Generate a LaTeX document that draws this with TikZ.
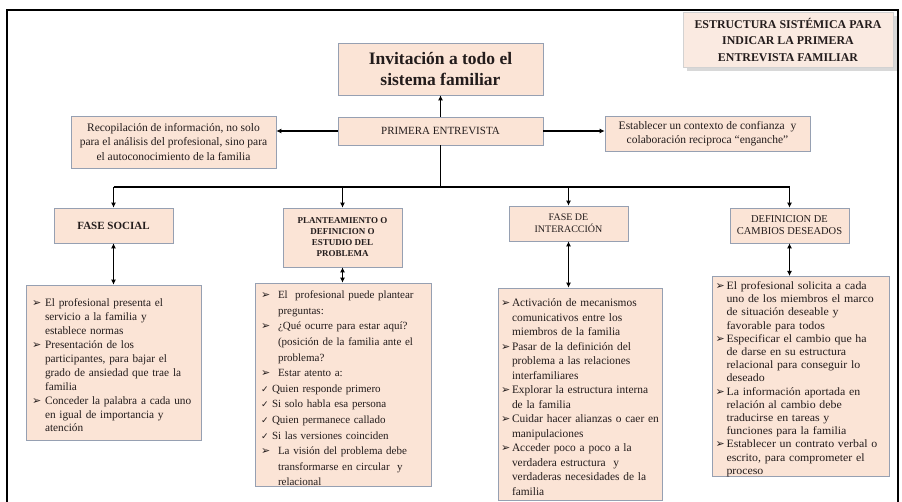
\documentclass[tikz,border=0pt]{standalone}
\usepackage{fontspec}
\setmainfont{Liberation Serif}
\newfontfamily\symf{DejaVu Sans}
\newfontfamily\widef[FakeStretch=1.06]{Liberation Serif}
\usetikzlibrary{arrows.meta,shadows}
\definecolor{boxfill}{RGB}{251,228,214}
\definecolor{boxline}{RGB}{150,160,178}
\definecolor{ink}{RGB}{35,28,28}
\definecolor{titlefill}{RGB}{250,234,225}
\newlength\bulind
\setlength\bulind{13pt}
\newcommand\lbr{\hfil\penalty-10000\relax}
\newcommand\arw{{\symf\fontsize{11}{9}\selectfont ➢}}
\newcommand\chk{{\symf\fontsize{9}{8.5}\selectfont ✓}}
\newcommand\bitem[1]{\par\noindent\hangindent=\bulind\hangafter=1\relax\makebox[\bulind][l]{\arw}#1\par}
\newcommand\citem[1]{\par\noindent\hangindent=11pt\hangafter=1\relax\makebox[11pt][l]{\chk}#1\par}
\begin{document}
\begin{tikzpicture}[x=1pt,y=-1pt,
  box/.style={draw=boxline, fill=boxfill, line width=0.7pt, inner sep=0pt, align=center, text=ink},
  conn/.style={line width=1.3pt, -{Latex[length=5pt,width=5pt]}},
  dconn/.style={line width=1.3pt, {Latex[length=5pt,width=5pt]}-{Latex[length=5pt,width=5pt]}},
  detail/.style={box, align=left},
  busline/.style={line width=1.3pt}
]
\useasboundingbox (0,0) rectangle (902,502);
\fill[white] (0,0) rectangle (902,502);
\draw[line width=1.5pt] (7,502) -- (7,10) -- (898,10) -- (898,502);

% title
\node[draw=gray!35, fill=titlefill, line width=0.5pt,
  drop shadow={shadow xshift=4pt, shadow yshift=-4pt, fill=gray!60, opacity=.5},
  minimum width=210pt, minimum height=55pt, inner sep=0pt, align=center,
  font=\bfseries\fontsize{11.9}{16.5}\selectfont, text=ink] (title) at (788,39.5)
  {ESTRUCTURA SISTÉMICA PARA\\INDICAR LA PRIMERA\\ENTREVISTA FAMILIAR};

% top level
\node[box, minimum width=205pt, minimum height=52pt, font=\bfseries\fontsize{17.5}{21}\selectfont] (inv) at (440.5,69)
  {Invitación a todo el\\sistema familiar};
\node[box, minimum width=205pt, minimum height=28pt, font=\fontsize{11}{13}\selectfont] (prim) at (440.5,131)
  {PRIMERA ENTREVISTA};
\node[box, minimum width=205pt, minimum height=52pt, font=\fontsize{11.5}{14.5}\selectfont] (rec) at (173.5,142)
  {Recopilación de información, no solo\\para el análisis del profesional, sino para\\el autoconocimiento de la familia};
\node[box, minimum width=205pt, minimum height=35pt, font=\fontsize{11.5}{13.5}\selectfont] (est) at (707.5,133.5)
  {Establecer un contexto de confianza\ \ y\\colaboración reciproca “enganche”};

\draw[conn] (prim.north) -- (inv.south);
\draw[conn] (prim.west) -- (prim.west -| rec.east);
\draw[conn] (prim.east) -- (prim.east -| est.west);

% phases
\node[box, minimum width=119pt, minimum height=35pt, font=\bfseries\fontsize{11}{13}\selectfont] (fs) at (113.5,225.5)
  {FASE SOCIAL};
\node[box, minimum width=119pt, minimum height=59pt, font=\bfseries\fontsize{9}{11}\selectfont] (pl) at (342.5,237.5)
  {PLANTEAMIENTO O\\DEFINICION O\\ESTUDIO DEL\\PROBLEMA};
\node[box, minimum width=119pt, minimum height=35pt, font=\fontsize{10}{12}\selectfont] (fi) at (568.5,223.5)
  {FASE DE\\INTERACCIÓN};
\node[box, minimum width=119pt, minimum height=35pt, font=\fontsize{10.5}{12}\selectfont] (dc) at (789.5,225.5)
  {DEFINICION DE\\CAMBIOS DESEADOS};

\coordinate (bus) at (440.5,187);
\draw[busline] (prim.south) -- (bus);
\draw[busline] (fs.north |- bus) -- (dc.north |- bus);
\draw[conn] (fs.north |- bus) -- (fs.north);
\draw[conn] (pl.north |- bus) -- (pl.north);
\draw[conn] (fi.north |- bus) -- (fi.north);
\draw[conn] (dc.north |- bus) -- (dc.north);

% details
\node[detail, minimum width=175pt, minimum height=155pt, text width=163pt, font=\fontsize{11.3}{13.9}\selectfont] (d1) at (113.5,362.5)
  {\setlength\bulind{13pt}%
   \bitem{El profesional presenta el\lbr servicio a la familia y\lbr establece normas}%
   \bitem{Presentación de los\lbr participantes, para bajar el\lbr grado de ansiedad que trae la\lbr familia}%
   \bitem{Conceder la palabra a cada uno\lbr en igual de importancia y\lbr atención}};
\node[detail, minimum width=176pt, minimum height=193pt, text width=164pt, font=\fontsize{11}{15.6}\selectfont] (d2) at (343,384.5)
  {\setlength\bulind{17pt}%
   \bitem{El\ \ profesional puede plantear\lbr preguntas:}%
   \bitem{¿Qué ocurre para estar aquí?\lbr (posición de la familia ante el\lbr problema?}%
   \bitem{Estar atento a:}%
   \citem{Quien responde primero}%
   \citem{Si solo habla esa persona}%
   \citem{Quien permanece callado}%
   \citem{Si las versiones coinciden}%
   \bitem{La visión del problema debe\lbr transformarse en circular\ \ y\lbr relacional}};
\node[detail, minimum width=164pt, minimum height=212pt, text width=158pt, font=\fontsize{11.4}{14.5}\selectfont] (d3) at (580,394)
  {\setlength\bulind{11pt}%
   \bitem{Activación de mecanismos\lbr comunicativos entre los\lbr miembros de la familia}%
   \bitem{Pasar de la definición del\lbr problema a las relaciones\lbr interfamiliares}%
   \bitem{Explorar la estructura interna\lbr de la familia}%
   \bitem{Cuidar hacer alianzas o caer en\lbr manipulaciones}%
   \bitem{Acceder poco a poco a la\lbr verdadera estructura\ \ y\lbr verdaderas necesidades de la\lbr familia}};
\node[detail, minimum width=177pt, minimum height=187pt, text width=170pt, font=\widef\fontsize{11.2}{13.2}\selectfont] (d4) at (800.5,376.5)
  {\setlength\bulind{11pt}%
   \bitem{El profesional solicita a cada\lbr uno de los miembros el marco\lbr de situación deseable y\lbr favorable para todos}%
   \bitem{Especificar el cambio que ha\lbr de darse en su estructura\lbr relacional para conseguir lo\lbr deseado}%
   \bitem{La información aportada en\lbr relación al cambio debe\lbr traducirse en tareas y\lbr funciones para la familia}%
   \bitem{Establecer un contrato verbal o\lbr escrito, para comprometer el\lbr proceso}};

\draw[dconn] (fs.south) -- (fs.south |- d1.north);
\draw[dconn] (pl.south) -- (pl.south |- d2.north);
\draw[dconn] (fi.south) -- (fi.south |- d3.north);
\draw[dconn] (dc.south) -- (dc.south |- d4.north);
\end{tikzpicture}
\end{document}
